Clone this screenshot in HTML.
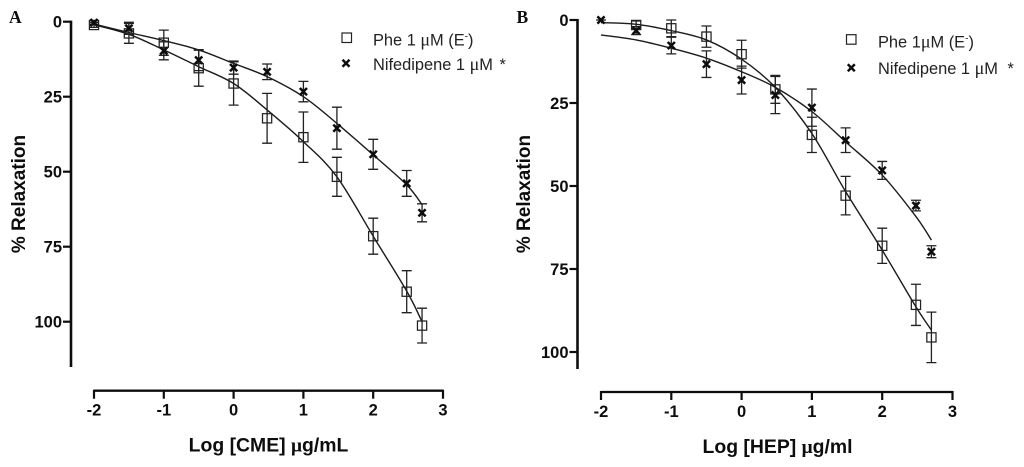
<!DOCTYPE html>
<html lang="en">
<head>
<meta charset="utf-8">
<title>Relaxation dose-response curves</title>
<style>
html,body{margin:0;padding:0;background:#fff;width:1024px;height:467px;overflow:hidden}
svg{display:block}
text{font-family:"Liberation Sans",sans-serif;fill:#111}
.tick{font-weight:bold;font-size:16.5px}
.title{font-weight:bold;font-size:19px}
.xtitle{font-size:19.4px}
.legend{font-size:16.4px;fill:#222}
.mu{font-family:"Liberation Serif",serif}
.legend .mu{font-size:18px}
.panel{font-family:"Liberation Serif",serif;font-weight:bold;font-size:17.5px}
</style>
</head>
<body>
<svg id="chart" xmlns="http://www.w3.org/2000/svg" width="1024" height="467" viewBox="0 0 1024 467">
  <defs><filter id="soft" x="-2%" y="-2%" width="104%" height="104%"><feGaussianBlur stdDeviation="0.35"/></filter></defs>
  <g id="root" filter="url(#soft)">
    <text class="panel" x="9" y="23">A</text>
    <text class="panel" x="516.5" y="23">B</text>

    <text class="title" transform="translate(25,194) rotate(-90)" text-anchor="middle">% Relaxation</text>
    <text class="title xtitle" x="268.5" y="451.5" text-anchor="middle">Log [CME] <tspan class="mu">μ</tspan>g/mL</text>
    <text class="title" transform="translate(530,194) rotate(-90)" text-anchor="middle">% Relaxation</text>
    <text class="title xtitle" x="777.5" y="453" text-anchor="middle">Log [HEP] <tspan class="mu">μ</tspan>g/ml</text>

    <g>
      <rect x="342" y="33" width="9.5" height="9.5" fill="none" stroke="#222" stroke-width="1.2"/>
      <path d="M342.5 59.8l7 7M349.5 59.8l-7 7" stroke="#111" stroke-width="2.5" fill="none"/>
      <text class="legend" x="373" y="45.5">Phe 1 <tspan class="mu">μ</tspan>M (E<tspan font-size="10" dy="-6">-</tspan><tspan dy="6">)</tspan></text>
      <text class="legend" x="373" y="70">Nifedipene 1 <tspan class="mu">μ</tspan>M <tspan dx="2">*</tspan></text>
    </g>
    <g>
      <rect x="846.5" y="34.7" width="9.5" height="9.5" fill="none" stroke="#222" stroke-width="1.2"/>
      <path d="M847.8 64.2l7 7M854.8 64.2l-7 7" stroke="#111" stroke-width="2.5" fill="none"/>
      <text class="legend" x="878" y="47.7">Phe 1<tspan class="mu">μ</tspan>M (E<tspan font-size="10" dy="-6">-</tspan><tspan dy="6">)</tspan></text>
      <text class="legend" x="878" y="74">Nifedipene 1 <tspan class="mu">μ</tspan>M <tspan dx="5">*</tspan></text>
    </g>
  </g>
</svg>
<script>
var logDose = [-2, -1.5, -1, -0.5, 0, 0.48, 1, 1.48, 2, 2.48, 2.7];
var xTickValues = [-2, -1, 0, 1, 2, 3];
var yTickValues = [0, 25, 50, 75, 100];

var pheA = [1.1, 3.9, 7, 15.5, 20.6, 32.2, 38.5, 51.7, 71.5, 90, 101.3];
var pheAErr = [0.8, 3.3, 4.2, 6, 7.2, 8.3, 8.4, 6.5, 6, 7, 5.8];
var pheAFit = [1, 4.2, 9.4, 15, 20.6, 29.4, 40, 51.7, 71.5, 89.8, 100];
var nifA = [0.3, 2.2, 9.7, 12.8, 15.3, 16.7, 23.3, 35.5, 44.2, 53.9, 63.7];
var nifAErr = [0.6, 2, 3, 3.5, 2.2, 2.6, 3.4, 7, 5, 4.3, 3];
var nifAFit = [0.8, 3.6, 6.3, 9.4, 13.9, 18.3, 25, 33.9, 44.4, 54.4, 61];

var pheB = [null, 1.5, 2.5, 5, 10.3, 20.9, 34.6, 52.9, 68, 85.8, 95.6];
var pheBErr = [null, 1.2, 2.5, 3.2, 4.2, 4.2, 5.3, 5.8, 5.3, 6.2, 7.6];
var pheBFit = [0.8, 1.3, 3.2, 6, 11.8, 20.3, 34.2, 51.7, 69.3, 86.4, 93.4];
var nifB = [0, 3.2, 7.7, 13.3, 18.1, 22.6, 26.4, 36.2, 45.3, 55.9, 69.8];
var nifBErr = [0, 1.2, 2.5, 4, 4.2, 5.6, 5.6, 3.7, 2.7, 1.6, 1.8];
var nifBFit = [4.5, 6, 8.5, 11.5, 15.6, 20.3, 27.6, 36.7, 46.7, 59.2, 66.3];

var NS = 'http://www.w3.org/2000/svg';
var root = document.getElementById('root');

function add(tag, attrs, parent) {
  var el = document.createElementNS(NS, tag);
  for (var k in attrs) el.setAttribute(k, attrs[k]);
  (parent || root).appendChild(el);
  return el;
}

function smoothPath(xs, ys, sx, sy) {
  var pts = xs.map(function (x, i) { return [sx(x), sy(ys[i])]; });
  var d = 'M' + pts[0][0] + ' ' + pts[0][1];
  for (var i = 0; i < pts.length - 1; i++) {
    var p0 = pts[Math.max(0, i - 1)], p1 = pts[i], p2 = pts[i + 1], p3 = pts[Math.min(pts.length - 1, i + 2)];
    d += 'C' + (p1[0] + (p2[0] - p0[0]) / 6) + ' ' + (p1[1] + (p2[1] - p0[1]) / 6) + ' ' +
      (p2[0] - (p3[0] - p1[0]) / 6) + ' ' + (p2[1] - (p3[1] - p1[1]) / 6) + ' ' + p2[0] + ' ' + p2[1];
  }
  return d;
}

function drawAxes(panel, sx, sy, axisX, axisTop, axisBottom, axisY) {
  var yAxis = add('path', {d: 'M' + axisX + ' ' + axisTop + 'V' + axisBottom, stroke: '#111', 'stroke-width': 2.6, fill: 'none'});
  
  
  var xAxis = add('path', {d: 'M' + sx(-2) + ' ' + axisY + 'H' + sx(3), stroke: '#111', 'stroke-width': 2.3, fill: 'none'});
  
  
  yTickValues.forEach(function (v) {
    var t = add('path', {d: 'M' + (axisX - 8) + ' ' + sy(v) + 'H' + axisX, stroke: '#111', 'stroke-width': 2.2, fill: 'none'});
    
    
    var l = add('text', {'class': 'tick', x: axisX - 9, y: sy(v) + 6, 'text-anchor': 'end'});
    
    
    l.textContent = v;
  });
  xTickValues.forEach(function (v) {
    var t = add('path', {d: 'M' + sx(v) + ' ' + (axisY - 1) + 'V' + (axisY + 8), stroke: '#111', 'stroke-width': 2.2, fill: 'none'});
    
    
    var l = add('text', {'class': 'tick', x: sx(v), y: axisY + 25, 'text-anchor': 'middle'});
    
    
    l.textContent = v;
  });
}

function drawSeries(name, kind, values, errs, fit, sx, sy) {
  var g = add('g', {});
  
  
  var line = add('path', {d: smoothPath(logDose, fit, sx, sy), fill: 'none', stroke: '#1a1a1a', 'stroke-width': 1.4}, g);
  
  
  logDose.forEach(function (x, i) {
    if (values[i] === null) return;
    var px = sx(x), py = sy(values[i]), top = sy(values[i] - errs[i]), bot = sy(values[i] + errs[i]);
    var bar = add('path', {
      d: 'M' + px + ' ' + top + 'V' + bot + 'M' + (px - 5) + ' ' + top + 'H' + (px + 5) + 'M' + (px - 5) + ' ' + bot + 'H' + (px + 5),
      fill: 'none', stroke: '#222', 'stroke-width': 1.3
    }, g);
    
    
    var mark;
    if (kind === 'square') {
      mark = add('rect', {x: px - 4.6, y: py - 4.6, width: 9.2, height: 9.2, fill: 'none', stroke: '#222', 'stroke-width': 1.25}, g);
    } else {
      mark = add('path', {d: 'M' + (px - 3.6) + ' ' + (py - 3.6) + 'l7.2 7.2M' + (px + 3.6) + ' ' + (py - 3.6) + 'l-7.2 7.2', fill: 'none', stroke: '#111', 'stroke-width': 2.5}, g);
    }
    
    
  });
}

function sxA(v) { return 233.6 + v * 69.8; }
function syA(v) { return 21.7 + v * 3.0; }
function sxB(v) { return 741.6 + v * 70.3; }
function syB(v) { return 20 + v * 3.32; }

drawAxes('panel-a', sxA, syA, 71, 20.6, 367, 390.7);
drawSeries('panel-a-phe', 'square', pheA, pheAErr, pheAFit, sxA, syA);
drawSeries('panel-a-nifedipene', 'cross', nifA, nifAErr, nifAFit, sxA, syA);

drawAxes('panel-b', sxB, syB, 577.5, 19, 369, 392);
drawSeries('panel-b-phe', 'square', pheB, pheBErr, pheBFit, sxB, syB);
drawSeries('panel-b-nifedipene', 'cross', nifB, nifBErr, nifBFit, sxB, syB);
</script>
</body>
</html>
